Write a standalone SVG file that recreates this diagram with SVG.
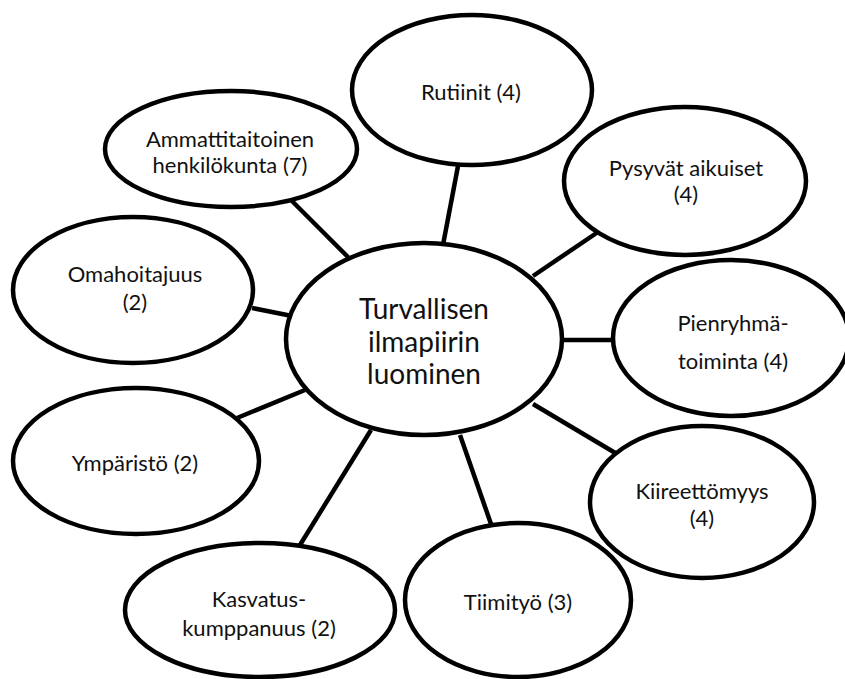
<svg xmlns="http://www.w3.org/2000/svg" width="845" height="679" viewBox="0 0 845 679">
<style>
.n{fill:#fff;stroke:#000;stroke-width:4.5}
.c line{stroke:#000;stroke-width:4.5}
text{font-family:Lato,"Liberation Sans",sans-serif;font-size:22px;fill:#111;text-anchor:middle;dominant-baseline:central}
.big{font-size:28px}
</style>
<rect width="845" height="679" fill="#fff"/>
<g class="c" id="connectors">
<line x1="291" y1="200" x2="348" y2="257"/>
<line x1="458" y1="166" x2="443" y2="245"/>
<line x1="598" y1="232" x2="533" y2="276"/>
<line x1="252" y1="308" x2="292" y2="316"/>
<line x1="560" y1="340" x2="614" y2="340"/>
<line x1="237" y1="418" x2="305" y2="390"/>
<line x1="300" y1="545" x2="371" y2="430"/>
<line x1="491" y1="524" x2="460" y2="435"/>
<line x1="617" y1="454" x2="533" y2="404"/>
</g>
<g id="center"><ellipse class="n" cx="424" cy="339" rx="138" ry="96"/>
<text class="big" x="424" y="308">Turvallisen</text><text class="big" x="424" y="341">ilmapiirin</text><text class="big" x="424" y="373">luominen</text></g>
<g id="rutiinit"><ellipse class="n" cx="472" cy="90" rx="120" ry="75"/><text x="471" y="91">Rutiinit (4)</text></g>
<g id="ammatti"><ellipse class="n" cx="231" cy="149" rx="126" ry="58"/><text x="230" y="138">Ammattitaitoinen</text><text x="230" y="164">henkilökunta (7)</text></g>
<g id="pysyvat"><ellipse class="n" cx="685" cy="181" rx="121" ry="74"/><text x="686" y="167">Pysyvät aikuiset</text><text x="686" y="193">(4)</text></g>
<g id="omahoitajuus"><ellipse class="n" cx="133" cy="290" rx="120" ry="73"/><text x="135" y="273">Omahoitajuus</text><text x="135" y="301">(2)</text></g>
<g id="pienryhma"><ellipse class="n" cx="731" cy="338" rx="118" ry="78"/><text x="733" y="322">Pienryhmä-</text><text x="733" y="360">toiminta (4)</text></g>
<g id="ymparisto"><ellipse class="n" cx="136" cy="461" rx="123" ry="73"/><text x="135" y="462">Ympäristö (2)</text></g>
<g id="kiireettomyys"><ellipse class="n" cx="702" cy="502" rx="112" ry="76"/><text x="702" y="490">Kiireettömyys</text><text x="702" y="517">(4)</text></g>
<g id="kasvatus"><ellipse class="n" cx="260" cy="610" rx="135" ry="67"/><text x="259" y="598">Kasvatus-</text><text x="259" y="627">kumppanuus (2)</text></g>
<g id="tiimityo"><ellipse class="n" cx="518" cy="600" rx="113" ry="77"/><text x="518" y="601">Tiimityö (3)</text></g>
</svg>
